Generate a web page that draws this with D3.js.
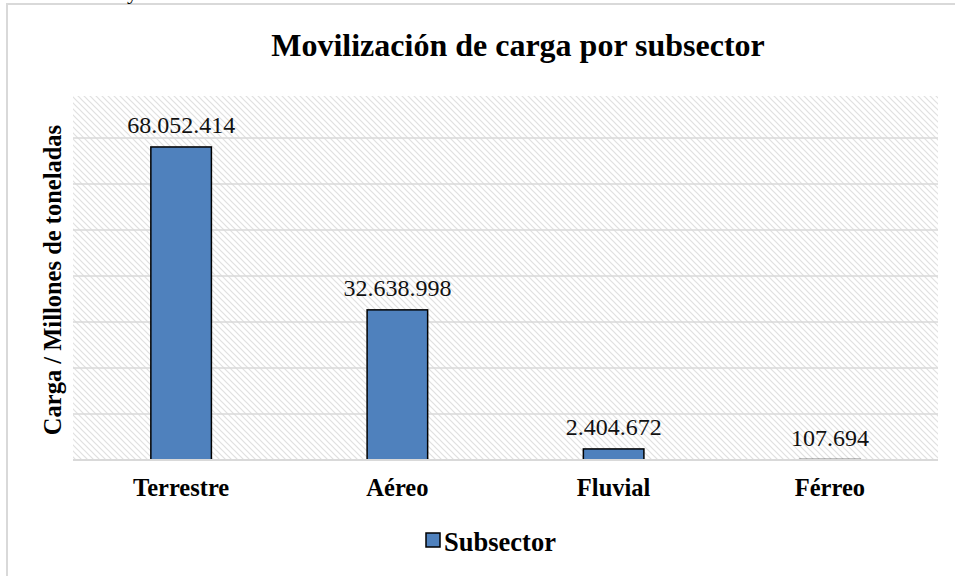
<!DOCTYPE html>
<html><head><meta charset="utf-8">
<script src="https://cdn.jsdelivr.net/npm/d3@7"></script>
<style>body{margin:0;background:#fff}svg{display:block}</style>
</head><body>
<script>
const categories = ["Terrestre","Aéreo","Fluvial","Férreo"];
const values = [68052414, 32638998, 2404672, 107694];
const labels = ["68.052.414","32.638.998","2.404.672","107.694"];
const gridTicks = [10e6,20e6,30e6,40e6,50e6,60e6,70e6];
const seriesName = "Subsector";
const title = "Movilización de carga por subsector";
const yTitle = "Carga / Millones de toneladas";

const FONT = "'Liberation Serif', 'Times New Roman', Times, 'DejaVu Serif', serif";
const W=955,H=576;
const svg=d3.select("body").append("svg").attr("width",W).attr("height",H)
  .attr("font-family",FONT).style("font-family",FONT);
const defs=svg.append("defs");
const pat=defs.append("pattern").attr("id","hatch").attr("patternUnits","userSpaceOnUse")
  .attr("width",6).attr("height",6);
pat.append("rect").attr("width",6).attr("height",6).attr("fill","#fff");
pat.append("path").attr("d","M-1,-1 L7,7 M-1,5 L1,7 M5,-1 L7,1").attr("stroke","#e0e0e0").attr("stroke-width",1.2);

// outer border
svg.append("path").attr("d","M7,"+(H+5)+" L7,4 L"+(W+5)+",4").attr("fill","none").attr("stroke","#d9d9d9").attr("stroke-width",2);
svg.append("text").attr("x",127).attr("y",-1).attr("font-size",22).text("y");

const L=73,R=938,T=96,B=460;
const x=d3.scaleBand().domain(categories).range([L,R]).paddingInner(0.72).paddingOuter(0.36);
const y=d3.scaleLinear().domain([0,80e6]).range([B,B-368]);

svg.append("rect").attr("x",L).attr("y",T).attr("width",R-L).attr("height",B-T).attr("fill","url(#hatch)");
svg.append("g").selectAll("line").data(gridTicks).join("line")
  .attr("x1",L).attr("x2",R).attr("y1",d=>y(d)).attr("y2",d=>y(d))
  .attr("stroke","#d9d9d9").attr("stroke-width",1.5);

svg.append("g").selectAll("rect").data(values).join("rect")
  .attr("x",(d,i)=>x(categories[i])).attr("width",x.bandwidth())
  .attr("y",d=>y(d)).attr("height",d=>y(0)-y(d))
  .attr("fill","#4f81bd").attr("stroke","#000").attr("stroke-width",1.5);

svg.append("line").attr("x1",L).attr("x2",R).attr("y1",y(0)).attr("y2",y(0)).attr("stroke","#d9d9d9").attr("stroke-width",2);

svg.append("g").selectAll("text").data(values).join("text")
  .attr("x",(d,i)=>x(categories[i])+x.bandwidth()/2).attr("y",d=>y(d)-14)
  .attr("text-anchor","middle").attr("font-size",24).attr("fill","#111").text((d,i)=>labels[i]);

svg.append("g").selectAll("text").data(categories).join("text")
  .attr("x",d=>x(d)+x.bandwidth()/2).attr("y",496)
  .attr("text-anchor","middle").attr("font-size",24.5).attr("font-weight","bold").text(d=>d);

svg.append("text").attr("x",518).attr("y",56).attr("text-anchor","middle")
  .attr("font-size",32).attr("font-weight","bold").text(title);

svg.append("text").attr("transform","translate(61,280) rotate(-90)").attr("text-anchor","middle")
  .attr("font-size",24.5).attr("font-weight","bold").text(yTitle);

svg.append("rect").attr("x",426).attr("y",533).attr("width",14).attr("height",14)
  .attr("fill","#4f81bd").attr("stroke","#000").attr("stroke-width",1.5);
svg.append("text").attr("x",444).attr("y",551).attr("font-size",26.5).attr("font-weight","bold").text(seriesName);
</script>
</body></html>
